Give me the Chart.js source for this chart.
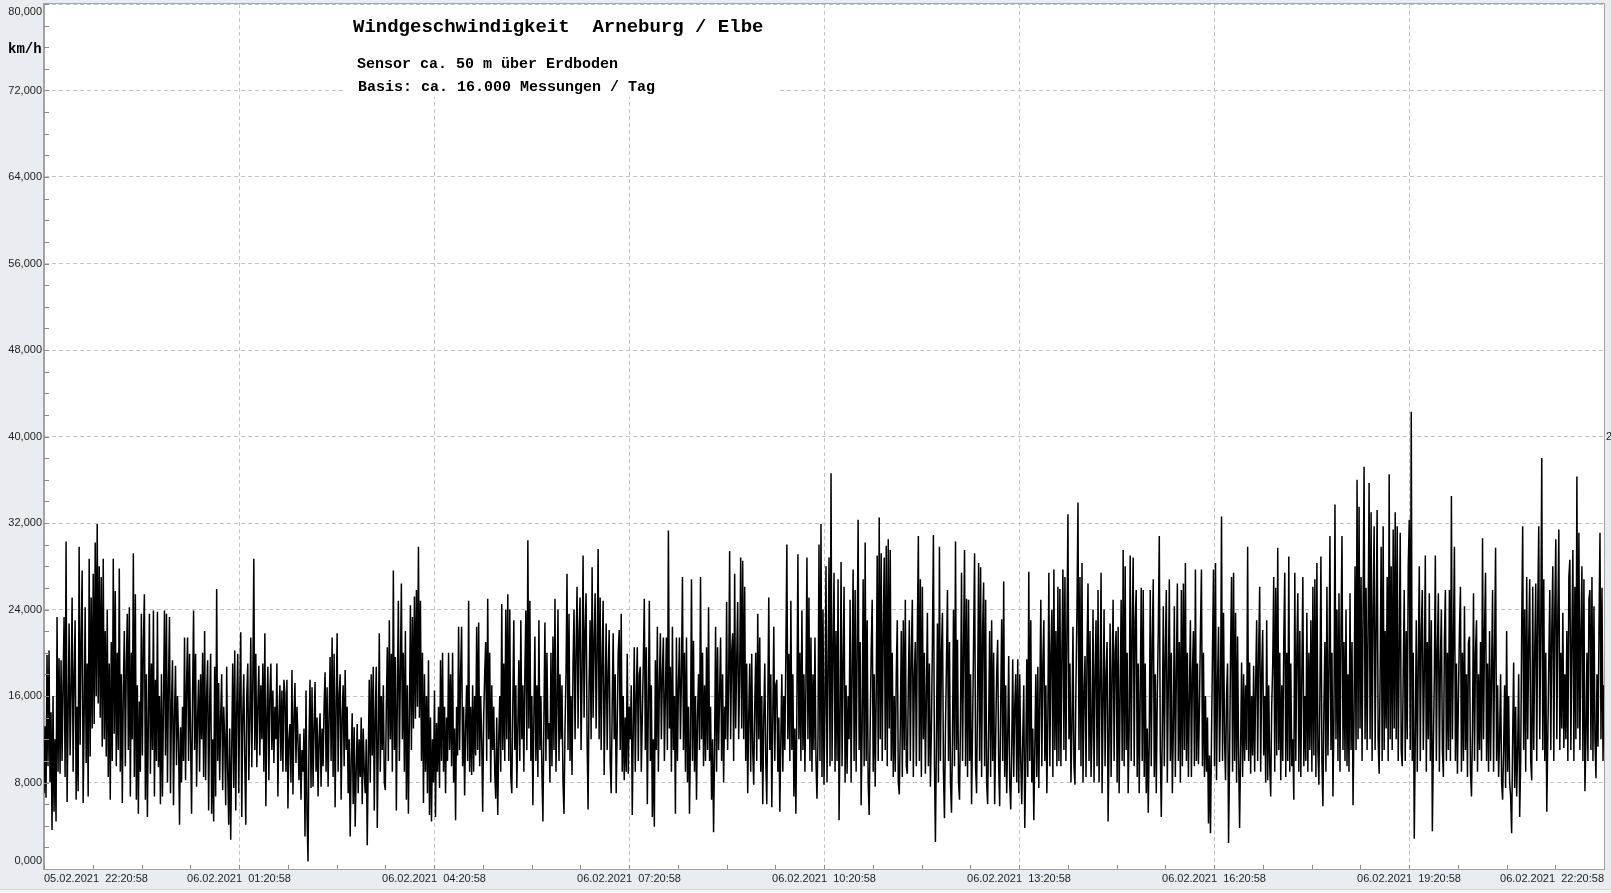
<!DOCTYPE html>
<html>
<head>
<meta charset="utf-8">
<script src="https://cdn.jsdelivr.net/npm/chart.js@4/dist/chart.umd.min.js"></script>
<style>
html,body{margin:0;padding:0;background:#e9ecf0;}
#wrap{width:1611px;height:893px;position:relative;}
</style>
</head>
<body>
<div id="wrap"><canvas id="c"></canvas></div>
<script>
// ---- data (km/h), evenly spaced over 05.02.2021 22:20:58 .. 06.02.2021 22:20:58 ----
const speedsA = [
7.0,13.2,6.6,19.8,9.5,20.2,8.0,14.5,3.6,16.0,5.3,12.0,4.4,23.3,9.0,19.5,8.8,19.3,10.0,17.0,
23.3,8.5,30.3,6.2,14.0,22.7,10.5,16.5,25.1,9.0,18.0,23.0,6.4,15.0,7.2,29.8,11.5,21.0,27.6,6.1,
14.0,24.2,9.8,19.0,6.7,28.7,10.4,25.1,13.0,27.3,13.4,30.2,16.0,31.9,15.3,28.0,14.0,27.0,11.3,28.7,
12.0,22.0,10.4,24.0,8.5,19.0,6.4,21.0,10.0,28.7,12.5,25.7,9.5,20.0,11.0,27.8,9.0,18.0,6.1,16.5,
22.0,9.5,19.0,23.6,11.0,24.2,6.7,20.0,12.0,29.2,8.5,25.4,6.4,17.0,5.1,15.5,9.0,23.6,10.5,21.0,
25.4,6.4,18.0,4.8,14.0,23.6,8.8,19.0,11.0,23.9,6.7,17.5,10.0,23.8,9.4,16.0,6.0,18.0,6.7,15.0,
23.9,10.5,23.6,8.0,17.0,23.3,7.0,15.0,19.3,5.9,14.0,18.8,9.6,16.0,12.0,4.1,13.1,8.0,15.0,10.0,
21.4,8.2,17.0,21.4,10.0,19.9,12.0,5.1,16.0,23.9,11.0,19.9,7.6,14.0,17.5,9.0,18.0,12.0,20.0,8.5,
22.0,8.2,16.0,19.3,5.4,15.0,19.9,5.1,12.0,4.4,18.7,6.7,25.9,10.0,17.2,8.2,14.0,18.0,7.3,15.0,
12.0,5.9,18.7,9.0,4.1,13.0,2.7,11.0,19.0,7.5,20.2,5.4,15.0,19.9,7.0,16.0,21.9,4.8,14.0,18.0,
10.0,4.1,16.0,19.0,8.2,14.0,21.4,9.4,17.0,28.7,11.0,19.9,9.4,15.0,18.8,10.5,17.0,12.0,19.0,9.0,
21.8,5.8,14.0,18.7,8.2,16.0,19.0,11.0,16.5,9.8,15.0,12.0,19.0,6.7,14.0,17.0,10.0,16.5,9.0,17.5,
16.2,9.0,17.5,5.6,12.0,13.4,8.0,18.4,6.9,14.0,17.2,9.8,15.0,11.9,8.2,12.5,6.4,11.0,9.0,13.0,
3.0,16.5,5.0,0.7,12.0,17.5,7.5,16.8,7.6,13.0,17.3,9.0,14.0,6.7,12.0,14.4,7.6,13.0,9.5,15.0,
18.2,9.0,16.8,7.6,14.0,19.6,10.0,21.4,8.5,19.9,5.7,15.0,21.8,9.0,16.0,18.0,6.4,14.0,17.0,9.5,
18.4,11.0,15.0,7.0,12.0,3.0,10.0,14.4,6.0,13.1,3.9,9.0,13.4,7.0,12.0,8.5,14.0,6.0,13.0,9.0,
7.0,12.0,2.2,10.0,17.5,8.0,18.0,10.5,18.7,5.4,14.0,18.7,3.8,12.0,21.8,9.0,16.0,11.0,17.0,8.0,
7.3,15.0,20.5,10.0,23.0,12.0,19.9,9.0,27.6,11.0,19.6,5.4,16.0,24.8,10.0,18.0,26.4,12.0,20.0,9.0,
22.0,6.4,17.0,5.1,14.0,24.4,11.0,23.3,13.0,25.2,13.9,25.8,15.0,29.8,14.0,24.8,10.0,20.0,6.1,18.0
];
const speedsB = [
9.0,16.0,7.0,19.3,5.0,14.0,4.4,12.0,8.0,16.5,4.8,13.5,9.0,15.0,7.5,19.3,10.0,20.0,9.0,15.0,
7.0,14.0,10.0,20.0,11.0,18.0,9.5,20.0,8.0,13.0,4.5,15.0,10.5,22.4,11.0,18.0,22.4,9.5,15.0,6.8,
13.0,17.0,10.0,24.8,9.0,15.0,8.7,17.0,9.0,16.0,10.5,22.4,11.0,22.8,9.5,16.0,12.0,5.3,14.0,18.0,
21.0,10.0,25.0,12.0,20.0,8.0,17.0,11.0,15.0,9.0,6.5,14.0,5.0,12.0,16.0,9.0,24.5,11.0,19.0,10.0,
24.0,12.0,25.4,10.0,24.0,8.5,7.0,15.0,23.0,11.0,17.0,7.5,13.0,19.3,10.0,23.0,12.0,17.0,9.0,18.0,
23.9,11.0,30.4,13.0,24.8,10.0,16.0,5.9,14.0,21.5,10.0,17.0,8.5,23.0,11.0,16.0,9.0,4.4,14.0,22.8,
10.0,20.0,12.0,13.5,8.0,20.0,9.5,21.5,11.0,25.0,9.0,15.0,24.0,10.0,18.0,12.0,17.0,8.0,5.1,13.0,
18.0,27.3,11.0,23.6,10.0,16.0,8.7,19.0,24.0,12.0,20.0,26.1,13.0,22.0,25.1,11.0,18.0,29.0,14.0,22.0,
25.5,12.0,5.5,17.0,23.0,12.0,27.9,14.0,21.0,25.5,13.0,20.0,29.6,12.0,25.1,11.0,19.0,24.8,8.7,16.0,
22.7,11.0,18.0,22.1,10.0,7.0,15.0,21.8,12.0,18.0,7.0,13.0,20.0,22.1,11.0,23.6,9.0,16.0,8.2,14.0,
9.0,19.9,8.8,15.0,12.0,17.0,5.0,13.0,20.5,9.0,16.0,20.5,10.0,18.0,18.7,9.0,14.0,19.0,25.0,11.0,
20.5,6.0,15.0,24.8,10.0,17.0,4.8,12.0,3.9,19.3,11.0,22.4,9.0,17.0,21.8,12.0,18.0,21.4,10.0,16.0,
21.4,11.0,31.3,13.0,18.7,9.0,22.4,11.0,16.0,5.1,21.4,10.0,17.0,21.4,12.0,18.0,27.0,11.0,20.0,9.0,
21.4,8.0,15.0,5.1,12.0,26.8,10.0,21.1,9.0,16.0,6.4,14.0,18.0,11.0,27.0,12.0,20.0,9.5,17.0,10.0,
20.5,11.0,24.2,10.0,15.0,6.4,12.0,3.4,11.0,22.4,9.0,20.5,11.0,16.0,21.4,10.0,18.0,8.0,15.0,12.0,
24.7,11.0,17.0,29.4,12.0,20.0,21.8,10.0,27.3,13.0,19.0,24.7,12.0,18.0,28.8,13.0,28.5,12.0,26.1,10.0,
19.0,7.0,14.0,19.0,9.0,19.9,11.0,7.8,15.0,20.0,10.0,23.6,12.0,21.4,9.0,16.0,6.0,14.0,19.0,10.0,
6.0,15.0,25.1,11.0,18.0,5.7,14.0,22.4,10.0,17.0,17.5,9.0,14.0,5.3,12.0,18.0,9.0,16.0,11.0,20.0,
30.0,12.0,19.9,10.0,24.8,11.0,18.0,6.7,13.0,5.1,15.0,29.1,12.0,20.0,10.0,23.9,11.0,18.0,9.0,17.0,
28.8,12.0,25.1,10.0,21.4,9.0,18.0,11.0,21.4,10.0
];
const speedsC = [
6.5,12.0,30.0,10.0,31.9,8.5,24.0,7.8,15.0,28.0,8.0,18.0,28.8,9.5,36.6,10.0,20.0,27.4,9.0,22.0,
10.0,26.8,4.5,13.0,28.4,9.5,19.0,26.1,8.0,17.0,8.8,16.0,12.0,24.9,8.0,18.0,27.7,10.0,25.8,9.0,
20.0,32.3,11.0,21.0,5.9,13.0,26.8,9.5,30.2,10.0,23.0,8.0,5.0,13.0,20.0,24.9,9.0,18.0,7.6,16.0,
29.0,10.0,32.5,12.0,29.2,10.0,22.0,28.8,11.0,29.9,9.5,30.5,13.0,29.5,10.0,20.0,8.5,16.0,9.0,18.0,
23.0,8.0,6.9,13.0,22.0,8.5,23.0,11.0,24.9,9.5,8.8,17.0,23.0,10.0,20.0,24.9,8.5,18.0,21.0,9.5,
22.0,30.8,10.0,26.8,8.5,26.1,12.0,20.0,8.8,16.0,23.7,9.5,19.0,7.6,13.0,21.0,30.9,10.0,2.5,12.0,
22.7,8.0,29.8,10.0,20.0,23.7,9.0,4.7,13.0,19.0,25.8,10.0,21.0,8.0,5.2,12.0,24.0,9.5,30.3,11.0,
21.2,8.0,6.4,14.0,27.4,10.0,20.0,29.5,9.5,25.0,8.5,24.9,10.0,18.0,6.0,13.0,21.0,29.2,9.5,7.0,
16.0,28.3,10.0,27.9,8.5,22.0,26.5,9.5,24.9,8.0,6.0,13.0,22.0,8.5,23.0,10.0,20.0,6.0,12.0,18.0,
21.2,9.5,5.8,15.0,23.1,10.0,26.6,8.5,17.0,7.0,12.0,19.7,8.0,5.5,11.0,19.4,8.5,15.0,18.0,8.0,
19.4,7.0,18.0,10.0,6.0,12.0,17.0,3.8,10.0,19.4,8.5,27.5,10.0,23.0,8.0,13.0,4.5,11.0,18.0,8.5,
18.7,7.5,16.0,24.9,9.5,19.0,23.0,10.0,17.0,7.0,14.0,27.4,9.5,20.0,24.0,8.5,27.7,11.0,22.0,9.5,
26.1,10.0,25.9,9.5,20.0,27.7,11.0,27.0,10.0,22.0,32.8,12.0,19.0,8.0,13.0,22.4,9.5,7.8,17.0,24.0,
33.9,11.0,27.0,9.5,28.3,8.0,16.0,19.7,8.5,20.0,26.4,10.0,22.0,8.5,13.0,24.0,8.0,18.0,23.0,9.5,
25.8,8.0,17.0,27.4,7.0,15.0,24.0,9.5,18.0,21.0,4.4,12.0,22.7,8.5,18.0,24.9,10.0,20.0,22.0,8.0,
22.4,7.0,16.0,24.9,10.0,29.5,9.5,28.0,11.0,20.0,7.0,13.0,29.0,10.0,22.0,28.8,9.5,23.0,25.8,8.5,
19.0,7.0,16.0,26.0,10.0,25.8,8.5,19.0,7.0,13.0,5.2,12.0,25.8,9.5,21.0,26.8,8.5,18.0,7.0,16.0,
22.0,30.8,11.0,4.8,13.0,24.3,9.5,20.0,25.8,8.0,17.0,26.8,10.0,20.0,7.0,13.0,24.3,8.5,18.0,26.4,
10.0,21.0,8.0,25.8,9.5,26.4,11.0,28.3,10.0,20.0,8.5,16.0,23.0,8.5,18.0,22.0,9.5,27.7,10.0,19.0,
9.7,15.0,22.0,27.7,9.5,20.0,8.5,16.0,9.0,14.0
];
const speedsD = [
4.2,10.5,3.3,12.0,20.0,27.7,9.5,28.3,8.2,17.0,22.4,9.9,16.0,32.6,10.0,23.7,12.0,8.2,16.0,19.0,
2.4,10.0,20.0,27.0,9.0,27.4,10.0,23.7,8.0,21.5,10.4,3.8,11.0,19.1,8.5,18.0,10.0,17.0,11.0,29.8,
10.0,19.1,8.8,16.0,10.5,18.8,9.0,17.0,23.0,10.0,20.0,26.1,9.0,18.0,22.1,10.5,16.0,8.0,23.0,8.2,
17.0,9.5,6.7,15.0,19.0,27.0,9.0,26.0,10.5,29.7,11.0,20.0,8.2,17.0,10.0,21.0,27.4,8.5,20.0,10.0,
28.9,9.0,19.0,9.5,12.0,6.4,27.4,10.0,20.0,25.5,9.0,22.0,8.5,18.0,27.0,9.5,16.0,10.0,23.7,9.0,
20.0,11.0,23.0,9.0,26.1,10.5,26.8,8.5,28.3,11.0,7.8,16.0,28.9,10.0,5.8,15.0,21.0,9.0,26.1,10.5,
18.0,30.8,11.0,20.0,6.7,14.0,33.7,12.0,24.0,10.0,25.5,9.0,22.0,30.8,11.0,21.0,10.0,24.0,9.5,18.0,
9.0,25.5,11.0,21.0,5.9,14.0,28.0,11.0,36.0,12.0,33.5,13.0,27.0,10.0,24.0,37.2,12.0,26.0,11.0,22.0,
35.7,12.0,33.0,10.0,24.0,31.7,11.0,22.0,33.2,12.0,8.8,18.0,29.8,10.0,31.7,11.0,22.0,13.0,27.0,10.0,
36.5,12.0,28.0,11.0,31.4,13.0,33.0,12.0,31.7,10.0,20.0,31.1,11.0,9.5,18.0,25.8,10.0,22.0,12.0,28.0,
32.3,11.0,42.3,10.0,20.0,2.8,12.0,23.0,9.0,19.0,28.0,10.0,22.0,25.8,11.0,18.0,29.0,9.0,21.0,12.0,
25.5,10.0,23.0,3.5,11.0,18.0,29.0,10.0,20.0,25.5,9.0,19.0,24.0,11.0,8.5,21.0,25.8,10.0,20.0,11.0,
25.8,10.0,34.5,12.0,21.0,29.8,10.0,19.0,8.8,16.0,22.0,26.1,9.0,20.0,10.0,24.3,11.0,18.0,8.5,21.0,
21.5,9.0,6.7,13.0,25.5,10.0,20.0,23.0,9.0,18.0,11.0,21.0,10.0,30.6,12.0,22.0,27.4,10.0,19.0,9.0,
22.0,10.0,18.0,25.8,9.0,20.0,29.7,10.0,17.0,8.5,12.0,18.0,8.0,6.4,11.0,17.0,7.5,22.0,9.0,16.0,
8.0,6.7,3.3,12.0,19.1,7.5,15.0,6.7,11.0,18.0,4.8,10.0,22.0,31.7,11.0,24.0,9.0,27.0,12.0,21.0,
26.8,10.0,8.2,26.1,11.0,20.0,26.4,10.0,24.0,31.7,12.0,22.0,38.0,11.0,26.8,10.0,20.0,5.3,12.0,19.0,
25.8,11.0,22.0,28.0,10.0,24.0,30.5,12.0,23.0,31.4,11.0,20.0,13.0,23.7,11.2,18.0,12.0,22.0,10.0,27.0,
28.6,11.0,21.0,29.5,10.0,26.1,12.0,36.3,13.0,31.1,11.0,22.0,28.0,10.0,26.8,7.2,12.0,20.0,10.0,25.0,
25.8,11.0,27.0,10.0,24.3,12.0,8.4,18.0,11.3,22.0,31.1,12.0,26.0,10.0,17.0
];
const xLabels = ['05.02.2021  22:20:58','06.02.2021  01:20:58','06.02.2021  04:20:58','06.02.2021  07:20:58',
  '06.02.2021  10:20:58','06.02.2021  13:20:58','06.02.2021  16:20:58','06.02.2021  19:20:58','06.02.2021  22:20:58'];
const yTickLabels = ['0,000','8,000','16,000','24,000','32,000','40,000','48,000','56,000','64,000','72,000','80,000'];
const titleText = 'Windgeschwindigkeit  Arneburg / Elbe';
const subText1 = 'Sensor ca. 50 m über Erdboden';
const subText2 = 'Basis: ca. 16.000 Messungen / Tag';
const unitText = 'km/h';

const speeds = speedsA.concat(speedsB, speedsC, speedsD);
const spanMinutes = 1440;
const points = speeds.map((v, i) => ({x: i * spanMinutes / (speeds.length - 1), y: v}));

const tickFont = {family: "'Liberation Sans', Arial, sans-serif", size: 11};

const deco = {
  id: 'deco',
  beforeDraw(chart) {
    const {ctx, chartArea: a, width, height} = chart;
    ctx.save();
    ctx.fillStyle = '#e9ecf0';
    ctx.fillRect(0, 0, width, height);
    ctx.fillStyle = '#f4f5f7';
    ctx.fillRect(0, 889, width, height - 889);
    ctx.fillStyle = '#d3d6da';
    ctx.fillRect(0, 889, width, 1);
    ctx.fillStyle = '#ffffff';
    ctx.fillRect(a.left, a.top, a.right - a.left, a.bottom - a.top);
    ctx.restore();
  },
  beforeDatasetsDraw(chart) {
    const {ctx, chartArea: a} = chart;
    ctx.save();
    ctx.fillStyle = '#ffffff';
    ctx.fillRect(343, a.top + 1, 434, 96 - a.top);
    ctx.restore();
  },
  afterDraw(chart) {
    const {ctx, chartArea: a, scales} = chart;
    const xs = scales.x, ys = scales.y;
    ctx.save();
    ctx.strokeStyle = '#8c8c8c';
    ctx.lineWidth = 1;
    ctx.beginPath();
    for (let v = 0; v <= 80; v += 2) {
      const y = Math.round(ys.getPixelForValue(v)) + 0.5;
      ctx.moveTo(a.left, y); ctx.lineTo(a.left + 5, y);
    }
    for (let m = 0; m <= spanMinutes; m += 45) {
      const x = Math.round(xs.getPixelForValue(m)) + 0.5;
      ctx.moveTo(x, a.bottom); ctx.lineTo(x, a.bottom - 4);
    }
    ctx.stroke();
    ctx.strokeStyle = '#a3a3a3';
    ctx.strokeRect(Math.round(a.left) - 0.5, Math.round(a.top) - 0.5, Math.round(a.right - a.left) + 1, Math.round(a.bottom - a.top) + 1);
    ctx.fillStyle = '#000';
    ctx.textBaseline = 'alphabetic';
    ctx.textAlign = 'left';
    ctx.font = "bold 19px 'Liberation Mono', 'Courier New', monospace";
    ctx.fillText(titleText, 353, 32);
    ctx.font = "bold 15px 'Liberation Mono', 'Courier New', monospace";
    ctx.fillText(subText1, 357, 68);
    ctx.fillText(subText2, 358, 90.5);
    ctx.font = "bold 14px 'Liberation Mono', 'Courier New', monospace";
    ctx.fillText(unitText, 8, 53);
    ctx.font = "11px 'Liberation Sans', Arial, sans-serif";
    ctx.fillStyle = '#222';
    ctx.textBaseline = 'middle';
    ctx.fillText('2', 1606, ys.getPixelForValue(40));
    ctx.restore();
  }
};

new Chart(document.getElementById('c'), {
  type: 'line',
  data: {
    datasets: [{
      label: 'Windgeschwindigkeit',
      data: points,
      borderColor: '#000000',
      borderWidth: 1.5,
      pointRadius: 0,
      tension: 0,
      fill: false
    }]
  },
  options: {
    responsive: true,
    maintainAspectRatio: false,
    animation: false,
    layout: {padding: {top: 4, right: 7, left: 0, bottom: 0}},
    plugins: {legend: {display: false}, tooltip: {enabled: false}, title: {display: false}},
    scales: {
      x: {
        type: 'linear',
        min: 0,
        max: spanMinutes,
        border: {display: true, color: '#a3a3a3', dash: [4, 3]},
        grid: {color: '#c4c4c4', lineWidth: 1, drawTicks: false},
        ticks: {
          stepSize: 180,
          autoSkip: false,
          maxRotation: 0,
          minRotation: 0,
          align: 'inner',
          padding: 3,
          color: '#1e1e1e',
          font: tickFont,
          callback: (v) => xLabels[Math.round(v / 180)]
        },
        afterFit(s) { s.height = 24; s.paddingLeft = 0; s.paddingRight = 0; }
      },
      y: {
        type: 'linear',
        min: 0,
        max: 80,
        border: {display: true, color: '#a3a3a3', dash: [4, 3]},
        grid: {color: '#c4c4c4', lineWidth: 1, drawTicks: false},
        ticks: {
          stepSize: 8,
          padding: 2,
          color: '#1e1e1e',
          font: {family: "'Liberation Sans', Arial, sans-serif", size: 11, lineHeight: 1.5},
          callback: (v) => {
            const t = yTickLabels[Math.round(v / 8)];
            if (v === 80) return ['', t];
            if (v === 0) return [t, ''];
            return t;
          }
        },
        afterFit(s) { s.width = 44; s.paddingTop = 0; s.paddingBottom = 0; }
      }
    }
  },
  plugins: [deco]
});
</script>
</body>
</html>
